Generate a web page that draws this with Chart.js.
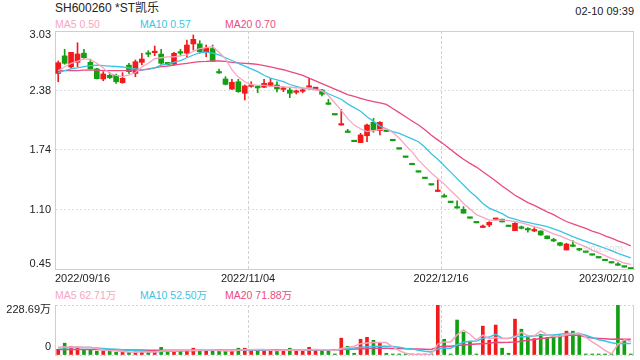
<!DOCTYPE html>
<html>
<head>
<meta charset="utf-8">
<script src="https://cdn.jsdelivr.net/npm/chart.js@4.4.0/dist/chart.umd.min.js"></script>
<style>
body{margin:0;width:640px;height:360px;background:#fff;position:relative;overflow:hidden;font-family:Arial,"Liberation Sans","Noto Sans CJK SC",sans-serif;}
.t{position:absolute;white-space:nowrap;line-height:1;}
canvas{position:absolute;left:0;}
</style>
</head>
<body>
<div class="t" style="left:55px;top:2px;font-size:12px;color:#222">SH600260 *ST凯乐</div>
<div class="t" style="right:6px;top:5.5px;font-size:11px;color:#222">02-10 09:39</div>
<div id="legK"></div>
<div id="legV"></div>
<canvas id="k" width="640" height="290" style="top:0"></canvas>
<canvas id="v" width="640" height="60" style="top:300px"></canvas>
<div class="t" style="left:583px;top:244px;font-size:10px;color:rgba(160,160,160,0.35)">sina.com</div>
<script>
// 日期
var dates = [
  '2022/09/16','2022/09/19','2022/09/20','2022/09/21','2022/09/22','2022/09/23','2022/09/26','2022/09/27','2022/09/28','2022/09/29',
  '2022/09/30','2022/10/10','2022/10/11','2022/10/12','2022/10/13','2022/10/14','2022/10/17','2022/10/18','2022/10/19','2022/10/20',
  '2022/10/21','2022/10/24','2022/10/25','2022/10/26','2022/10/27','2022/10/28','2022/10/31','2022/11/01','2022/11/02','2022/11/03',
  '2022/11/04','2022/11/07','2022/11/08','2022/11/09','2022/11/10','2022/11/11','2022/11/14','2022/11/15','2022/11/16','2022/11/17',
  '2022/11/18','2022/11/21','2022/11/22','2022/11/23','2022/11/24','2022/11/25','2022/11/28','2022/11/29','2022/11/30','2022/12/01',
  '2022/12/02','2022/12/05','2022/12/06','2022/12/07','2022/12/08','2022/12/09','2022/12/12','2022/12/13','2022/12/14','2022/12/15',
  '2022/12/16','2022/12/26','2022/12/27','2022/12/28','2022/12/29','2022/12/30','2023/01/03','2023/01/04','2023/01/05','2023/01/06',
  '2023/01/09','2023/01/10','2023/01/11','2023/01/12','2023/01/13','2023/01/16','2023/01/17','2023/01/18','2023/01/19','2023/01/20',
  '2023/01/30','2023/01/31','2023/02/01','2023/02/02','2023/02/03','2023/02/06','2023/02/07','2023/02/08','2023/02/09','2023/02/10'
];
// K线 开高低收
var open = [
  2.57,2.76,2.64,2.69,2.79,2.69,2.62,2.51,2.55,2.55,
  2.47,2.66,2.57,2.69,2.785,2.795,2.78,2.69,2.67,2.80,
  2.79,2.89,2.89,2.80,2.84,2.585,2.51,2.40,2.48,2.355,
  2.43,2.42,2.42,2.44,2.445,2.397,2.39,2.365,2.376,2.42,
  2.405,2.39,2.24,2.12,2.01,1.935,1.83,1.82,1.895,2.04,
  1.95,1.94,1.84,1.75,1.66,1.58,1.50,1.43,1.36,1.29,
  1.235,1.17,1.11,1.097,1.00,0.95,0.90,0.927,0.987,0.99,
  0.91,0.865,0.895,0.876,0.862,0.862,0.808,0.757,0.735,0.656,
  0.70,0.66,0.63,0.60,0.57,0.54,0.515,0.49,0.47,0.45
];
var high = [
  2.705,2.832,2.80,2.903,2.832,2.726,2.626,2.589,2.578,2.564,
  2.578,2.68,2.716,2.788,2.817,2.867,2.832,2.69,2.799,2.832,
  2.932,2.987,2.925,2.878,2.878,2.618,2.535,2.506,2.506,2.445,
  2.48,2.434,2.506,2.517,2.48,2.426,2.409,2.39,2.409,2.517,
  2.42,2.398,2.29,2.12,2.181,1.964,1.83,1.921,2.022,2.083,
  2.047,1.94,1.84,1.75,1.66,1.58,1.50,1.43,1.36,1.415,
  1.263,1.17,1.19,1.126,1.00,0.95,0.927,0.963,1.00,0.99,
  0.91,0.952,0.916,0.898,0.898,0.865,0.81,0.783,0.74,0.729,
  0.757,0.674,0.63,0.60,0.57,0.54,0.515,0.52,0.47,0.45
];
var low = [
  2.48,2.669,2.626,2.643,2.726,2.618,2.51,2.49,2.513,2.463,
  2.463,2.571,2.535,2.661,2.751,2.762,2.669,2.66,2.661,2.77,
  2.751,2.824,2.788,2.751,2.697,2.57,2.445,2.398,2.365,2.282,
  2.42,2.361,2.416,2.426,2.369,2.372,2.307,2.347,2.361,2.42,
  2.40,2.325,2.235,2.12,2.01,1.93,1.83,1.82,1.83,1.932,
  1.903,1.94,1.84,1.75,1.66,1.58,1.50,1.43,1.36,1.29,
  1.23,1.17,1.11,1.055,1.00,0.95,0.90,0.909,0.98,0.96,
  0.91,0.865,0.884,0.848,0.854,0.815,0.775,0.747,0.70,0.656,
  0.695,0.648,0.63,0.60,0.57,0.54,0.515,0.49,0.47,0.45
];
var close = [
  2.686,2.68,2.799,2.781,2.741,2.621,2.513,2.564,2.524,2.48,
  2.517,2.589,2.697,2.726,2.778,2.802,2.68,2.665,2.788,2.79,
  2.878,2.94,2.806,2.842,2.705,2.575,2.452,2.474,2.372,2.434,
  2.438,2.413,2.463,2.47,2.401,2.405,2.355,2.372,2.384,2.428,
  2.412,2.344,2.235,2.12,2.015,1.93,1.83,1.903,2.011,1.957,
  2.04,1.94,1.84,1.75,1.66,1.58,1.50,1.43,1.36,1.295,
  1.23,1.17,1.11,1.055,1.00,0.95,0.905,0.956,0.993,0.96,
  0.91,0.945,0.891,0.873,0.868,0.819,0.779,0.754,0.707,0.721,
  0.695,0.656,0.63,0.60,0.57,0.54,0.515,0.49,0.47,0.45
];
// 均线
var ma5 = [
  2.60,2.64,2.68,2.70,2.73,2.72,2.68,2.63,2.57,2.55,
  2.535,2.555,2.58,2.64,2.68,2.73,2.74,2.75,2.75,2.76,
  2.77,2.81,2.84,2.85,2.86,2.80,2.73,2.61,2.53,2.48,
  2.45,2.44,2.44,2.43,2.43,2.425,2.42,2.415,2.41,2.41,
  2.39,2.38,2.33,2.25,2.17,2.08,2.01,1.97,1.94,1.95,
  1.96,1.97,1.93,1.87,1.79,1.72,1.63,1.56,1.49,1.43,
  1.37,1.30,1.234,1.16,1.10,1.04,1.01,0.98,0.98,0.98,
  0.975,0.965,0.95,0.93,0.91,0.89,0.86,0.83,0.81,0.78,
  0.75,0.72,0.69,0.655,0.625,0.595,0.565,0.54,0.515,0.50
];
var ma10 = [
  2.58,2.60,2.62,2.63,2.645,2.655,2.66,2.655,2.65,2.645,
  2.64,2.63,2.62,2.61,2.615,2.63,2.66,2.67,2.69,2.71,
  2.74,2.77,2.795,2.80,2.79,2.77,2.74,2.71,2.68,2.65,
  2.62,2.59,2.55,2.52,2.50,2.48,2.45,2.43,2.41,2.40,
  2.40,2.385,2.35,2.32,2.29,2.24,2.20,2.16,2.10,2.05,
  2.00,1.97,1.94,1.92,1.89,1.86,1.83,1.77,1.70,1.64,
  1.57,1.50,1.43,1.36,1.29,1.23,1.16,1.11,1.08,1.05,
  1.01,0.99,0.97,0.955,0.94,0.925,0.91,0.885,0.86,0.83,
  0.80,0.775,0.75,0.725,0.70,0.675,0.65,0.62,0.595,0.57
];
var ma20 = [
  2.60,2.60,2.60,2.60,2.605,2.607,2.605,2.60,2.60,2.60,
  2.60,2.603,2.605,2.607,2.62,2.63,2.643,2.65,2.66,2.67,
  2.68,2.69,2.697,2.70,2.705,2.705,2.70,2.69,2.685,2.68,
  2.675,2.668,2.655,2.64,2.625,2.61,2.59,2.57,2.55,2.52,
  2.49,2.46,2.43,2.40,2.37,2.34,2.32,2.30,2.28,2.265,
  2.25,2.235,2.19,2.145,2.10,2.055,2.011,1.96,1.90,1.85,
  1.80,1.745,1.69,1.64,1.595,1.555,1.505,1.455,1.405,1.35,
  1.30,1.25,1.21,1.17,1.14,1.105,1.07,1.04,1.00,0.965,
  0.94,0.915,0.89,0.86,0.84,0.81,0.785,0.755,0.73,0.70
];
// 成交量(万)
var volume = [
  26,54,40,35,23,26,17,17,17,12,
  14,12,14,14,14,15,35,17,21,18,
  21,31,20,20,20,17,20,21,31,31,
  17,26,21,17,26,20,31,17,17,35,
  23,26,17,5,77,40,8,72,81,67,
  55,8,3,2,2,1.5,1.5,1.5,1.5,228.69,
  72,3,160,104,61,3,132,67,137,31,
  8,164,118,90,75,95,80,89,89,109,
  109,92,3,3,3,3,3,227,72,2
];
var volMa5 = [
  36,37,37,38,36,36,30,24,20,18,
  16,14,13,14,14,14,18,19,20,21,
  22,22,22,24,23,21,20,20,22,24,
  24,25,25,22,21,22,23,22,22,24,
  25,24,24,21,30,34,40,52,55,57,
  57,57,37,20,8,3,2,2,2,50,
  60,60,92,114,95,68,91,75,80,76,
  77,82,105,88,88,110,92,86,87,93,
  97,99,82,60,42,21,5,48,70,62.71
];
var volMa10 = [
  33,33,34,34,34,34,32,30,28,26,
  24,22,20,18,16,15,16,17,17,18,
  19,20,21,22,22,22,21,21,22,23,
  23,23,23,23,23,23,23,22,22,23,
  24,24,23,22,26,29,32,36,38,39,
  40,40,39,36,30,28,22,17,14,27,
  31,31,47,58,63,64,76,82,95,77,
  75,86,84,83,87,90,91,91,95,98,
  98,98,90,80,70,64,56,52,53,52.50
];
var volMa20 = [
  25,25,25,25,25,25,25,24,24,24,
  24,23,23,23,22,22,22,22,22,22,
  22,22,22,22,22,22,22,22,22,22,
  22,22,22,22,22,22,22,22,22,23,
  23,23,23,23,25,26,27,28,30,31,
  31,31,30,30,29,28,27,26,25,37,
  40,40,43,46,48,50,52,54,58,57,
  58,60,63,67,71,75,78,82,86,90,
  91,90,82,78,76,74,72,73,72,71.88
];
// 刻度
var priceTicks = [3.03, 2.385, 1.74, 1.095, 0.45];
var priceTickLabels = ['3.03', '2.38', '1.74', '1.10', '0.45'];
var volTicks = [228.69, 0];
var volTickLabels = ['228.69万', '0'];
var dateTickIndex = [0, 30, 60, 89];

var UP = '#f21b1b', DOWN = '#12a012';
var maColors = ['#f8a5c2', '#3cc4e4', '#ea4b7f'];
var font = 'Arial, "Liberation Sans", "Noto Sans CJK SC", sans-serif';

var candleColors = close.map(function (c, i) {
  var prev = i ? close[i - 1] : c;
  return (c > open[i] || (c === open[i] && c >= prev)) ? UP : DOWN;
});
var bodies = open.map(function (o, i) { return [o, close[i]]; });
var wicks = low.map(function (l, i) { return [l, high[i]]; });

// 图例
function legend(id, top, names, series, unit) {
  var el = document.getElementById(id);
  var x = [55, 140, 225];
  el.innerHTML = names.map(function (n, k) {
    var s = series[k], v = s[s.length - 1].toFixed(2);
    return '<div class="t" style="left:' + x[k] + 'px;top:' + top + 'px;font-size:10.5px;color:' + maColors[k] + '">' + n + ' ' + v + unit + '</div>';
  }).join('');
}
legend('legK', 18.5, ['MA5', 'MA10', 'MA20'], [ma5, ma10, ma20], '');
legend('legV', 289.5, ['MA5', 'MA10', 'MA20'], [volMa5, volMa10, volMa20], '万');

// 外框(右、上)
var frame = {
  id: 'frame',
  beforeDatasetsDraw: function (chart, args, o) {
    var ctx = chart.ctx, a = chart.chartArea;
    var rx = Math.round(a.right) - 0.5, ty = Math.round(a.top) + 0.5;
    ctx.save();
    ctx.strokeStyle = o.color;
    ctx.lineWidth = 1;
    ctx.beginPath();
    ctx.moveTo(rx, a.top); ctx.lineTo(rx, a.bottom);
    if (o.top) { ctx.moveTo(a.left, ty); ctx.lineTo(a.right, ty); }
    ctx.stroke();
    ctx.restore();
  }
};

// 坐标文字
var axisText = {
  id: 'axisText',
  afterDraw: function (chart, args, o) {
    var ctx = chart.ctx, a = chart.chartArea, x = chart.scales.x, y = chart.scales.y;
    ctx.save();
    ctx.font = '11px ' + font;
    ctx.fillStyle = '#222';
    ctx.textBaseline = 'middle';
    ctx.textAlign = 'right';
    o.yValues.forEach(function (v, k) {
      ctx.fillText(o.yLabels[k], a.left - 4, y.getPixelForValue(v) + o.yShift[k]);
    });
    if (o.xIndex) {
      var half = (x.getPixelForValue(1) - x.getPixelForValue(0)) / 2;
      o.xIndex.forEach(function (idx, k) {
        var last = k === o.xIndex.length - 1;
        ctx.textAlign = k === 0 ? 'left' : (last ? 'right' : 'center');
        ctx.fillText(chart.data.labels[idx], x.getPixelForValue(idx) + (last ? half : -half), a.bottom + 10);
      });
    }
    ctx.restore();
  }
};

function vGrid(ctx) {
  return (ctx.index === 30 || ctx.index === 60) ? '#d2d2d2' : 'rgba(0,0,0,0)';
}

function maLine(data, k, w) {
  return { type: 'line', data: data, borderColor: maColors[k], borderWidth: w, pointRadius: 0, order: 0 };
}

// K线图
var kChart = new Chart(document.getElementById('k'), {
  type: 'bar',
  data: {
    labels: dates,
    datasets: [
      maLine(ma5, 0, 1.3), maLine(ma10, 1, 1.3), maLine(ma20, 2, 1.3),
      { data: bodies, backgroundColor: candleColors, barThickness: 5, minBarLength: 1.5, grouped: false, order: 1 },
      { data: wicks, backgroundColor: candleColors, barThickness: 1, grouped: false, order: 2 }
    ]
  },
  options: {
    responsive: false,
    animation: false,
    events: [],
    layout: { padding: { left: 55, right: 6, top: 31, bottom: 21 } },
    plugins: {
      legend: { display: false },
      tooltip: { enabled: false },
      frame: { color: '#cfcfcf', top: true },
      axisText: { yValues: priceTicks, yLabels: priceTickLabels, yShift: [4, 0, 0, 0, -5], xIndex: dateTickIndex }
    },
    scales: {
      x: {
        offset: true,
        ticks: { display: false, autoSkip: false },
        grid: { offset: true, drawTicks: false, color: vGrid },
        border: { color: '#cfcfcf', dash: [3, 2] },
        afterFit: function (s) { s.height = 0; }
      },
      y: {
        min: 0.45,
        max: 3.03,
        afterBuildTicks: function (s) { s.ticks = priceTicks.map(function (v) { return { value: v }; }); },
        ticks: { display: false },
        grid: { color: '#dedede', drawTicks: false },
        border: { color: '#cfcfcf', dash: [2, 2] },
        afterFit: function (s) { s.width = 0; }
      }
    }
  },
  plugins: [frame, axisText]
});

// 成交量图
var vChart = new Chart(document.getElementById('v'), {
  type: 'bar',
  data: {
    labels: dates,
    datasets: [
      maLine(volMa5, 0, 1.5), maLine(volMa10, 1, 1.5), maLine(volMa20, 2, 1.5),
      { data: volume, backgroundColor: candleColors, barThickness: 3, minBarLength: 1, order: 1 }
    ]
  },
  options: {
    responsive: false,
    animation: false,
    events: [],
    layout: { padding: { left: 55, right: 6, top: 5, bottom: 5 } },
    plugins: {
      legend: { display: false },
      tooltip: { enabled: false },
      frame: { color: '#cfcfcf', top: false },
      axisText: { yValues: volTicks, yLabels: volTickLabels, yShift: [5, -8] }
    },
    scales: {
      x: {
        offset: true,
        ticks: { display: false, autoSkip: false },
        grid: { offset: true, drawTicks: false, color: vGrid },
        border: { display: false, dash: [3, 2] },
        afterFit: function (s) { s.height = 0; }
      },
      y: {
        min: 0,
        max: 228.69,
        afterBuildTicks: function (s) { s.ticks = volTicks.map(function (v) { return { value: v }; }); },
        ticks: { display: false },
        grid: { color: '#d6d6d6', drawTicks: false },
        border: { color: '#cfcfcf', dash: [2, 2] },
        afterFit: function (s) { s.width = 0; }
      }
    }
  },
  plugins: [frame, axisText]
});
</script>
</body>
</html>
